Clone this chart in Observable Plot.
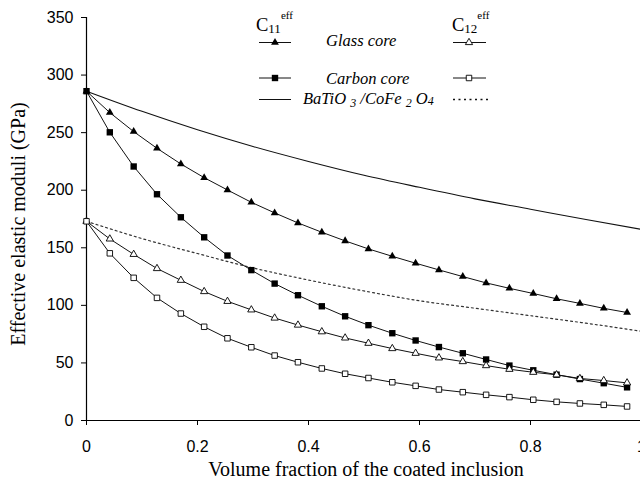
<!DOCTYPE html>
<html>
<head>
<meta charset="utf-8">
<script src="https://cdn.jsdelivr.net/npm/d3@7"></script>
<script src="https://cdn.jsdelivr.net/npm/@observablehq/plot@0.6"></script>
<style>
  html, body { margin: 0; padding: 0; background: #fff; }
  #chart svg { display: block; }
</style>
</head>
<body>
<div id="chart"></div>
<script>
// Volume fraction sample points (markers)
const xs = [0, 0.042, 0.085, 0.127, 0.17, 0.212, 0.254, 0.297, 0.339, 0.381, 0.424, 0.466,
            0.508, 0.551, 0.593, 0.635, 0.678, 0.72, 0.762, 0.805, 0.847, 0.889, 0.932, 0.974];
const glassC11  = [286, 267.4, 250.9, 236.4, 222.8, 210.9, 200.2, 189.5, 180.3, 171.6, 163.5, 156,
                   149, 142.6, 136.6, 130.8, 125, 119.5, 114.8, 110.3, 105.7, 101.7, 97.4, 93.8];
const carbonC11 = [286, 250.3, 220.6, 196.5, 176.5, 159.1, 143.3, 130.6, 118.9, 108.8, 99.2, 90.5,
                   82.8, 75.8, 69.5, 63.8, 58.4, 53, 47.7, 43.6, 39.8, 36, 32.4, 28.8];
const glassC12  = [173, 157.7, 144.3, 132, 121.8, 112, 103.5, 96.1, 89, 82.9, 77.1, 71.7,
                   67.1, 62.5, 58.4, 54.4, 51.2, 47.7, 44.5, 41.9, 39.7, 36.5, 34.7, 32.7];
const carbonC12 = [173, 145.2, 123.9, 106.5, 92.9, 81.4, 71.4, 63.6, 56.4, 50.6, 45.2, 40.6,
                   36.9, 33.2, 30.1, 26.9, 24.6, 22.3, 20.3, 18, 16.2, 14.8, 13.6, 12.2];
// BaTiO3/CoFe2O4 reference curves (no markers)
const bxs  = [0, 0.1, 0.2, 0.3, 0.4, 0.5, 0.6, 0.7, 0.8, 0.9, 1];
const bC11 = [286, 268.5, 252.5, 238, 225, 213, 202.5, 192.5, 183.5, 174.5, 166];
const bC12 = [173, 158, 145, 132.5, 122, 112.5, 104, 97.5, 91, 84.5, 77.5];
// Axis ticks
const xTicks = [0, 0.2, 0.4, 0.6, 0.8, 1];
const xTickLabels = ["0", "0.2", "0.4", "0.6", "0.8", "1"];
const yTicks = [0, 50, 100, 150, 200, 250, 300, 350];
const xTitle = "Volume fraction of the coated inclusion";
const yTitle = "Effective elastic moduli (GPa)";

const toRows = (xArr, yArr) => xArr.map((x, i) => ({x, y: yArr[i]}));
const gC11 = toRows(xs, glassC11), cC11 = toRows(xs, carbonC11);
const gC12 = toRows(xs, glassC12), cC12 = toRows(xs, carbonC12);
const b11 = toRows(bxs, bC11), b12 = toRows(bxs, bC12);

const chart = Plot.plot({
  width: 640,
  height: 481,
  marginLeft: 86,
  marginRight: -1,
  marginTop: 17,
  marginBottom: 61,
  style: {fontFamily: "Liberation Sans, Arial, sans-serif", fontSize: "16px", color: "#000", background: "#fff"},
  x: {domain: [0, 1]},
  y: {domain: [0, 350]},
  marks: [
    Plot.axisX({ticks: xTicks, tickFormat: (d) => xTickLabels[xTicks.indexOf(d)], tickSize: 5, tickPadding: 15, label: null, stroke: "#000"}),
    Plot.axisY({ticks: yTicks, tickSize: 5, tickPadding: 8, label: null, stroke: "#000"}),
    Plot.ruleX([0], {y1: 0, y2: 350, stroke: "#000", strokeWidth: 1.2}),
    Plot.ruleY([0], {stroke: "#000", strokeWidth: 1.2}),
    Plot.line(b11, {x: "x", y: "y", curve: "monotone-x", stroke: "#111", strokeWidth: 1.1}),
    Plot.line(b12, {x: "x", y: "y", curve: "monotone-x", stroke: "#333", strokeWidth: 1.2, strokeDasharray: "2,3"}),
    Plot.line(gC11, {x: "x", y: "y", stroke: "#111", strokeWidth: 1}),
    Plot.line(cC11, {x: "x", y: "y", stroke: "#111", strokeWidth: 1}),
    Plot.line(gC12, {x: "x", y: "y", stroke: "#111", strokeWidth: 1}),
    Plot.line(cC12, {x: "x", y: "y", stroke: "#111", strokeWidth: 1}),
    Plot.dot(gC11, {x: "x", y: "y", symbol: "triangle", r: 2.9, fill: "#000", stroke: "none"}),
    Plot.dot(cC11, {x: "x", y: "y", symbol: "square", r: 3.6, fill: "#000", stroke: "none"}),
    Plot.dot(gC12, {x: "x", y: "y", symbol: "triangle", r: 2.7, fill: "#fff", stroke: "#000", strokeWidth: 0.9}),
    Plot.dot(cC12, {x: "x", y: "y", symbol: "square", r: 3.1, fill: "#fff", stroke: "#000", strokeWidth: 0.9})
  ]
});
document.getElementById("chart").appendChild(chart);

// Titles and legend
const svg = d3.select(chart);
svg.style("overflow", "hidden");
const serif = "Liberation Serif, Times New Roman, serif";

svg.append("text")
  .attr("x", 366).attr("y", 476)
  .attr("text-anchor", "middle")
  .attr("font-family", serif).attr("font-size", 20).attr("fill", "#000")
  .text(xTitle);
svg.append("text")
  .attr("transform", "translate(25,224) rotate(-90)")
  .attr("text-anchor", "middle")
  .attr("font-family", serif).attr("font-size", 20).attr("fill", "#000")
  .text(yTitle);

const lg = svg.append("g").attr("font-family", serif).attr("fill", "#000").attr("text-anchor", "start");
const sym = (type, r) => d3.symbol().type(type).size(Math.PI * r * r)();

// Column headers
function header(x, sub) {
  const t = lg.append("text").attr("x", x).attr("y", 30.5).attr("font-size", 18.5).attr("text-anchor", "start");
  t.append("tspan").text("C");
  t.append("tspan").attr("font-size", 13).attr("dy", 2).text(sub);
  t.append("tspan").attr("font-size", 11).attr("dy", -14).text("eff");
}
header(256, "11");
header(452, "12");

const rows = [
  {y: 42.5},
  {y: 78},
  {y: 99.5}
];
// left column sample lines
rows.forEach(r => {
  lg.append("line").attr("x1", 259).attr("x2", 291).attr("y1", r.y).attr("y2", r.y)
    .attr("stroke", "#111").attr("stroke-width", 1);
});
lg.append("path").attr("d", sym(d3.symbolTriangle, 2.9)).attr("transform", `translate(275,${rows[0].y})`).attr("fill", "#000");
lg.append("path").attr("d", sym(d3.symbolSquare, 3.6)).attr("transform", `translate(275,${rows[1].y})`).attr("fill", "#000");
// right column sample lines
lg.append("line").attr("x1", 453).attr("x2", 486).attr("y1", rows[0].y).attr("y2", rows[0].y).attr("stroke", "#111");
lg.append("line").attr("x1", 453).attr("x2", 486).attr("y1", rows[1].y).attr("y2", rows[1].y).attr("stroke", "#111");
lg.append("line").attr("x1", 453).attr("x2", 488).attr("y1", rows[2].y).attr("y2", rows[2].y)
  .attr("stroke", "#111").attr("stroke-width", 1.6).attr("stroke-dasharray", "2,3.5");
lg.append("path").attr("d", sym(d3.symbolTriangle, 2.7)).attr("transform", `translate(469,${rows[0].y})`)
  .attr("fill", "#fff").attr("stroke", "#000").attr("stroke-width", 0.9);
lg.append("path").attr("d", sym(d3.symbolSquare, 3.1)).attr("transform", `translate(469,${rows[1].y})`)
  .attr("fill", "#fff").attr("stroke", "#000").attr("stroke-width", 0.9);

// labels
lg.append("text").attr("x", 326).attr("y", 46).attr("font-size", 16.5).attr("font-style", "italic").attr("text-anchor", "start").text("Glass core");
lg.append("text").attr("x", 326).attr("y", 84).attr("font-size", 16.5).attr("font-style", "italic").attr("text-anchor", "start").text("Carbon core");
const bt = lg.append("text").attr("x", 303).attr("y", 104).attr("font-size", 16.5).attr("font-style", "italic").attr("text-anchor", "start");
bt.append("tspan").text("BaTiO ");
bt.append("tspan").attr("font-size", 12).attr("dy", 3).text("3");
bt.append("tspan").attr("dy", -3).text(" /CoFe ");
bt.append("tspan").attr("font-size", 12).attr("dy", 3).text("2");
bt.append("tspan").attr("dy", -3).text(" O");
bt.append("tspan").attr("font-size", 12).attr("dy", 1).text("4");
</script>
</body>
</html>
